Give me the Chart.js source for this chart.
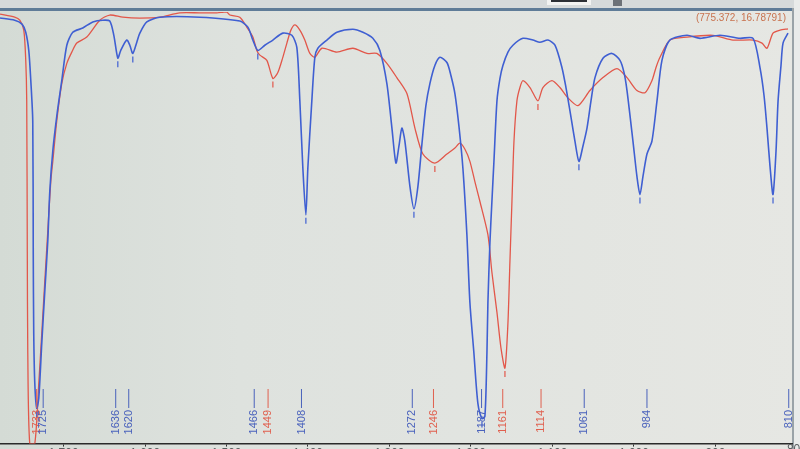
<!DOCTYPE html>
<html>
<head>
<meta charset="utf-8">
<script src="https://cdn.jsdelivr.net/npm/chart.js@4"></script>
<style>
  html, body { margin: 0; padding: 0; overflow: hidden; background: #dfe3df; }
  canvas { display: block; }
</style>
</head>
<body>
<canvas id="irChart" width="800" height="470"></canvas>
<script>
// wavenumber (cm-1) / transmittance (%)
const blueWn = [1778,1760,1751,1746.4,1742.7,1740.2,1737.8,1737.2,1736.6,1735.3,
  1732.9,1730.4,1726.7,1723.1,1719.4,1716.9,1713.2,1708.3,1702.2,1696,
  1688.7,1676.4,1664.1,1651.8,1643.3,1638.3,1633.4,1629.8,1622.4,1618.7,
  1615,1610.1,1606.4,1597.8,1581.9,1532.8,1483.7,1473.8,1467.7,1461.6,
  1453,1443.1,1430.9,1419.8,1413.7,1410,1406.3,1402.6,1400.2,1395.3,
  1391.6,1387.9,1376.8,1364.6,1344.9,1332.6,1320.4,1311.8,1303.2,1297,
  1292.1,1288.4,1284.8,1281.1,1274.9,1270,1265.1,1260.2,1255.3,1250.4,
  1244.3,1238.1,1229.5,1224.6,1219.7,1214.8,1209.9,1205,1201.3,1196.4,
  1191.5,1186.5,1182.9,1180.4,1179.2,1176.7,1174.3,1171.8,1168.1,1164.4,
  1160.8,1154.6,1148.5,1136.2,1124,1115.4,1105.5,1096.9,1088.3,1083.4,
  1078.5,1072.4,1067.5,1062.6,1057.6,1052.7,1047.8,1038,1026.9,1017.1,
  1012.2,1008.5,1001.2,996.3,992.6,988.9,984,977.9,971.7,965.6,
  955.8,934.9,918.9,894.4,869.8,853.8,845.3,840.3,836.7,833,
  829.3,825.6,823.1,819.5,817,810.9];
const blueT = [98.6,98.1,97.2,95.3,91.1,84.1,74.8,44.4,25.7,14.0,
  8.2,10.5,23.4,35.0,46.7,58.4,67.8,75.9,84.1,92.3,
  95.3,96.3,97.7,98.1,97.9,94.6,89.3,91.1,93.5,92.3,
  90.4,93.0,95.1,97.7,98.8,98.8,97.9,96.5,93.5,91.1,
  92.3,93.5,95.1,94.6,91.8,79.4,63.8,53.0,63.8,79.4,
  89.5,91.6,93.5,95.3,96.0,95.3,93.9,91.1,83.4,73.1,
  65.0,68.9,73.1,70.1,59.6,54.4,59.6,69.4,78.3,83.4,
  87.6,89.5,88.3,85.3,81.1,73.6,63.8,48.4,32.7,21.0,
  9.3,5.8,6.3,21.0,32.7,46.7,56.1,65.4,79.4,84.6,
  87.6,90.7,92.3,93.9,93.5,93.0,93.5,92.3,87.1,82.5,
  77.1,70.1,65.4,68.9,73.1,79.4,84.8,89.3,90.4,88.8,
  86.0,81.8,70.1,61.9,57.7,61.9,67.1,70.1,79.4,88.8,
  93.5,94.6,93.9,94.6,93.9,93.9,87.1,80.6,73.1,64.3,
  57.7,67.8,79.4,87.6,92.8,95.1];

const redWn = [1778,1760,1753.7,1748.8,1746.4,1745.2,1744.5,1743.9,1741.5,1735.3,
  1730.4,1726.7,1723.1,1719.4,1715.7,1713.2,1708.3,1702.2,1696,1689.9,
  1683.8,1671.5,1655.5,1643.3,1627.3,1606.4,1581.9,1557.3,1532.8,1511.9,
  1503.3,1499.6,1495.9,1483.7,1475.1,1467.7,1462.8,1459.1,1450.5,1443.1,
  1437,1430.9,1425.9,1421,1416.1,1410,1403.9,1397.7,1391.6,1382.9,
  1364.6,1344.9,1327.7,1315.5,1303.2,1291,1278.6,1268.8,1259,1244.3,
  1229.5,1219.7,1213.6,1207.4,1201.3,1195.2,1189,1179.2,1174.3,1168.1,
  1163.2,1158.3,1154.6,1152.2,1149.7,1147.2,1143.6,1139.9,1136.2,1127.6,
  1117.8,1111.7,1100.6,1090.8,1081,1068.7,1054,1038,1020.8,1008.5,
  996.3,986.4,977.9,973,968,955.8,934.9,903,878.4,853.8,
  842.8,836.7,829.3,820.7,810.9];
const redT = [99.5,98.8,98.1,95.8,88.8,79.4,44.4,21.0,0,0,
  14.0,25.7,37.4,49.1,60.7,65.4,74.8,83.4,88.1,90.7,
  92.8,94.2,98.1,99.3,98.8,98.6,98.8,99.8,99.8,99.8,
  100,100,99.3,98.8,96.5,94.2,91.1,90.0,88.8,84.6,
  86.0,89.5,92.8,95.8,97.0,95.8,93.5,90.4,89.5,91.6,
  90.7,91.6,90.4,90.4,88.1,84.8,81.1,73.1,67.1,65.0,
  67.1,68.5,69.6,68.2,65.4,60.7,56.1,48.4,39.7,30.4,
  22.2,17.5,28.0,42.1,56.1,70.1,79.4,82.5,84.1,82.5,
  79.4,82.5,84.1,82.5,80.1,78.3,81.8,84.8,86.9,84.8,
  81.8,81.3,84.1,87.1,89.5,93.5,94.2,94.6,93.5,93.5,
  92.8,91.6,95.1,95.8,96.1];

// peak picks: wavenumber and which trace they belong to
const peakWn     = [1733, 1725, 1636, 1620, 1466, 1449, 1408, 1272, 1246, 1187, 1161, 1114, 1061, 984, 810];
const peakSeries = ['red','blue','blue','blue','blue','red','blue','blue','red','blue','red','red','blue','blue','blue'];

const xTicks = [1700, 1600, 1500, 1400, 1300, 1200, 1100, 1000, 900];
const cursorText = '(775.372, 16.78791)';

const BLUE = '#3f5fd2';
const RED  = '#e2574a';

const toPts = (wn, t) => wn.map((w, i) => ({ x: w, y: t[i] }));

const series = { blue: { wn: blueWn, t: blueT }, red: { wn: redWn, t: redT } };

// nearest local minimum of a trace to a picked wavenumber
function nearestMin(s, w) {
  let best = null;
  for (let i = 1; i < s.wn.length - 1; i++) {
    if (s.t[i] <= s.t[i - 1] && s.t[i] <= s.t[i + 1]) {
      const d = Math.abs(s.wn[i] - w);
      if (!best || d < best.d) best = { d, x: s.wn[i], y: s.t[i] };
    }
  }
  return best;
}

const decor = {
  id: 'decor',
  beforeDraw(chart) {
    const { ctx, width, height } = chart;
    ctx.save();
    const g = ctx.createLinearGradient(0, 0, width, 0);
    g.addColorStop(0, '#d4dbd5');
    g.addColorStop(0.3, '#dee2de');
    g.addColorStop(1, '#e6e7e3');
    ctx.fillStyle = g;
    ctx.fillRect(0, 0, width, height);
    // window strip on top
    ctx.fillStyle = '#d6dadb';
    ctx.fillRect(0, 0, width, 9);
    ctx.fillStyle = '#f2f3f2';
    ctx.fillRect(547, 0, 44, 5);
    ctx.fillStyle = '#2c3036';
    ctx.fillRect(551, 0, 36, 2);
    ctx.fillStyle = '#6d7278';
    ctx.fillRect(613, 0, 9, 6);
    ctx.fillStyle = '#5f7c98';
    ctx.fillRect(0, 8, 792, 3);
    // right frame
    ctx.fillStyle = '#9aa3a8';
    ctx.fillRect(792, 8, 2, height);
    ctx.fillStyle = '#e9ebea';
    ctx.fillRect(794, 0, 6, height);
    ctx.restore();
  },
  afterDatasetsDraw(chart) {
    const { ctx, scales: { x, y } } = chart;
    ctx.save();
    // small marks under each picked minimum
    peakWn.forEach((w, i) => {
      const m = nearestMin(series[peakSeries[i]], w);
      if (!m || m.y < 3) return;
      const px = x.getPixelForValue(m.x), py = y.getPixelForValue(m.y);
      ctx.strokeStyle = peakSeries[i] === 'blue' ? BLUE : RED;
      ctx.lineWidth = 1.2;
      ctx.beginPath();
      ctx.moveTo(px, py + 3);
      ctx.lineTo(px, py + 9);
      ctx.stroke();
    });
    // peak labels along the bottom
    ctx.font = '11px "Liberation Sans", Arial, sans-serif';
    ctx.textAlign = 'right';
    ctx.textBaseline = 'middle';
    peakWn.forEach((w, i) => {
      const px = x.getPixelForValue(w);
      const col = peakSeries[i] === 'blue' ? '#4a62bc' : '#e0604f';
      ctx.strokeStyle = col;
      ctx.fillStyle = col;
      ctx.lineWidth = 1;
      ctx.beginPath();
      ctx.moveTo(px, 389);
      ctx.lineTo(px, 408);
      ctx.stroke();
      ctx.save();
      ctx.translate(px, 410);
      ctx.rotate(-Math.PI / 2);
      ctx.fillText(String(w), 0, 0);
      ctx.restore();
    });
    // cursor readout
    ctx.font = '10px "Liberation Sans", Arial, sans-serif';
    ctx.textAlign = 'right';
    ctx.textBaseline = 'alphabetic';
    ctx.fillStyle = '#c8734f';
    ctx.fillText(cursorText, 786, 21);
    // last tick past the right frame
    ctx.fillStyle = '#5a5e60';
    ctx.font = '12px "Liberation Sans", Arial, sans-serif';
    ctx.textAlign = 'center';
    ctx.textBaseline = 'top';
    ctx.fillText('800', x.getPixelForValue(800), 444);
    ctx.restore();
  }
};

new Chart(document.getElementById('irChart').getContext('2d'), {
  type: 'scatter',
  data: {
    datasets: [
      {
        label: 'blue',
        data: toPts(blueWn, blueT),
        showLine: true,
        borderColor: BLUE,
        borderWidth: 1.6,
        pointRadius: 0,
        tension: 0.25
      },
      {
        label: 'red',
        data: toPts(redWn, redT),
        showLine: true,
        borderColor: RED,
        borderWidth: 1.3,
        pointRadius: 0,
        tension: 0.25
      }
    ]
  },
  options: {
    responsive: false,
    animation: false,
    layout: { padding: { top: 12, left: 0, right: 8, bottom: 9 } },
    plugins: {
      legend: { display: false },
      tooltip: { enabled: false }
    },
    scales: {
      x: {
        type: 'linear',
        reverse: true,
        min: 806,
        max: 1778,
        afterBuildTicks: s => { s.ticks = xTicks.map(v => ({ value: v })); },
        grid: { drawOnChartArea: false, drawTicks: true, tickLength: 3, color: '#333' },
        border: { display: true, color: '#2a2a2a', width: 1.5 },
        ticks: {
          color: '#5a5e60',
          font: { family: 'Liberation Sans', size: 12 },
          padding: 0,
          maxRotation: 0,
          autoSkip: false
        }
      },
      y: { display: false, min: 0, max: 100 }
    }
  },
  plugins: [decor]
});
</script>
</body>
</html>
